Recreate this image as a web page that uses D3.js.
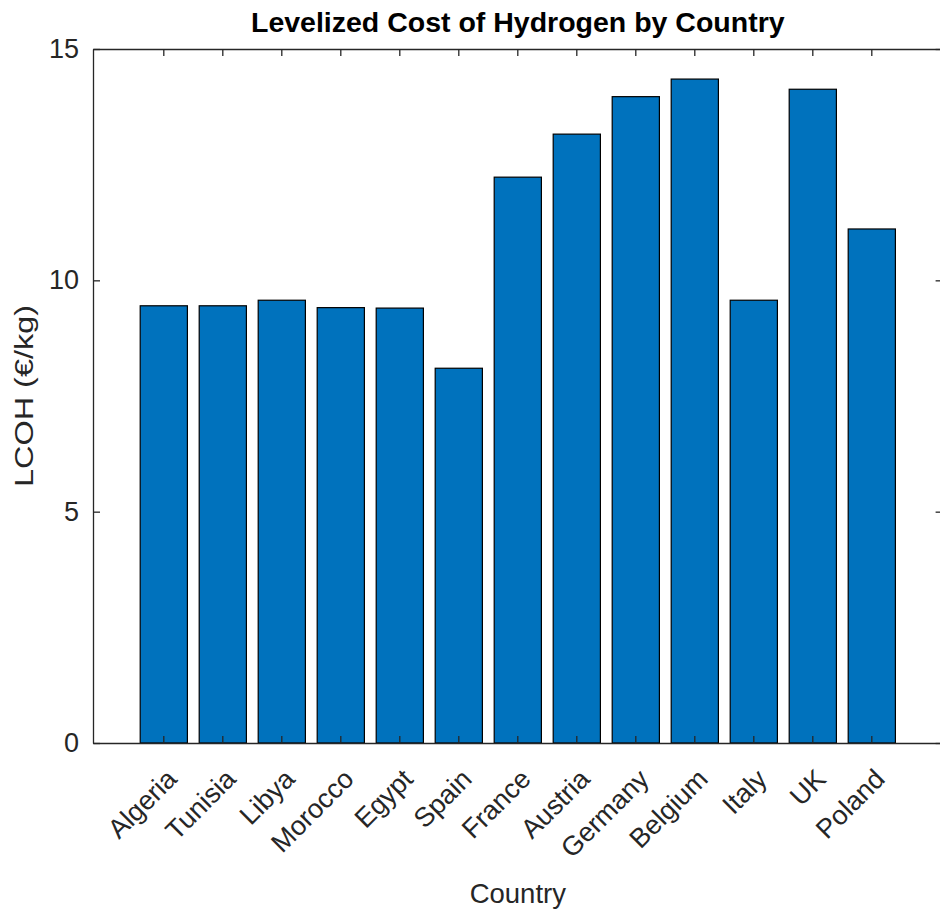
<!DOCTYPE html>
<html>
<head>
<meta charset="utf-8">
<script src="https://cdn.jsdelivr.net/npm/d3@7"></script>
<style>
  html, body { margin: 0; padding: 0; background: #fff; }
  svg { display: block; font-family: "Liberation Sans", Arial, Helvetica, sans-serif; }
</style>
</head>
<body>
<svg id="chart" width="940" height="912"></svg>
<script>
// Levelized cost of hydrogen (€/kg) per country
const countries = ["Algeria", "Tunisia", "Libya", "Morocco", "Egypt", "Spain", "France",
                   "Austria", "Germany", "Belgium", "Italy", "UK", "Poland"];
const lcoh = [9.45, 9.45, 9.57, 9.41, 9.40, 8.10, 12.23, 13.16, 13.97, 14.35, 9.57, 14.13, 11.11];
const yTicks = [0, 5, 10, 15];

const titleText = "Levelized Cost of Hydrogen by Country";
const xLabelText = "Country";
const yLabelText = "LCOH (€/kg)";

const svg = d3.select("#chart");
const W = 940, H = 912;
const margin = { top: 49, right: -2.6, bottom: 169, left: 93 };
const x0 = margin.left, x1 = W - margin.right;
const y0 = margin.top, y1 = H - margin.bottom;

const axisColor = "#262626";
const barColor = "#0072BD";

const x = d3.scaleBand()
  .domain(countries)
  .range([x0, x1])
  .paddingInner(0.2)
  .paddingOuter(0.8);

const y = d3.scaleLinear().domain([0, 15]).range([y1, y0]);

// Bars
svg.append("g")
  .selectAll("rect")
  .data(countries)
  .join("rect")
  .attr("x", d => x(d))
  .attr("width", x.bandwidth())
  .attr("y", (d, i) => y(lcoh[i]))
  .attr("height", (d, i) => y(0) - y(lcoh[i]))
  .attr("fill", barColor)
  .attr("stroke", "#000")
  .attr("stroke-width", 1.2);

const tickLen = 7;
const center = d => x(d) + x.bandwidth() / 2;

// Box axes with inward ticks
const xAxisBottom = d3.axisBottom(x).tickSizeInner(-tickLen).tickSizeOuter(0).tickFormat("");
const gxb = svg.append("g").attr("transform", `translate(0,${y1})`).call(xAxisBottom);

const xAxisTop = d3.axisTop(x).tickSizeInner(-tickLen).tickSizeOuter(0).tickFormat("");
const gxt = svg.append("g").attr("transform", `translate(0,${y0})`).call(xAxisTop);

const yAxisLeft = d3.axisLeft(y).tickValues(yTicks).tickSizeInner(-tickLen).tickSizeOuter(0).tickPadding(14);
const gyl = svg.append("g").attr("transform", `translate(${x0},0)`).call(yAxisLeft);

const yAxisRight = d3.axisRight(y).tickValues(yTicks).tickSizeInner(-tickLen).tickSizeOuter(0).tickFormat("");
const gyr = svg.append("g").attr("transform", `translate(${x1},0)`).call(yAxisRight);

[gxb, gxt, gyl, gyr].forEach(g => {
  g.select(".domain").attr("stroke", axisColor).attr("stroke-width", 1.3);
  g.selectAll(".tick line").attr("stroke", axisColor).attr("stroke-width", 1.3);
});

gyl.selectAll(".tick text")
  .attr("fill", axisColor)
  .attr("font-size", 27)
  .attr("font-family", "Liberation Sans, Arial, sans-serif");

// Rotated category labels
svg.append("g")
  .selectAll("text")
  .data(countries)
  .join("text")
  .attr("transform", d => `translate(${center(d) + 8},${y1 + 31}) rotate(-45)`)
  .attr("text-anchor", "end")
  .attr("dy", "0.35em")
  .attr("fill", axisColor)
  .attr("font-size", 27)
  .text(d => d);

// Title
svg.append("text")
  .attr("x", (x0 + x1) / 2)
  .attr("y", 32)
  .attr("text-anchor", "middle")
  .attr("font-weight", "bold")
  .attr("font-size", 28.5)
  .attr("fill", "#000")
  .text(titleText);

// Axis labels
svg.append("text")
  .attr("x", (x0 + x1) / 2)
  .attr("y", 903)
  .attr("text-anchor", "middle")
  .attr("font-size", 27.5)
  .attr("fill", axisColor)
  .text(xLabelText);

svg.append("text")
  .attr("transform", `translate(33,${(y0 + y1) / 2}) rotate(-90)`)
  .attr("text-anchor", "middle")
  .attr("font-size", 25)
  .attr("textLength", 182)
  .attr("lengthAdjust", "spacingAndGlyphs")
  .attr("fill", axisColor)
  .text(yLabelText);
</script>
</body>
</html>
